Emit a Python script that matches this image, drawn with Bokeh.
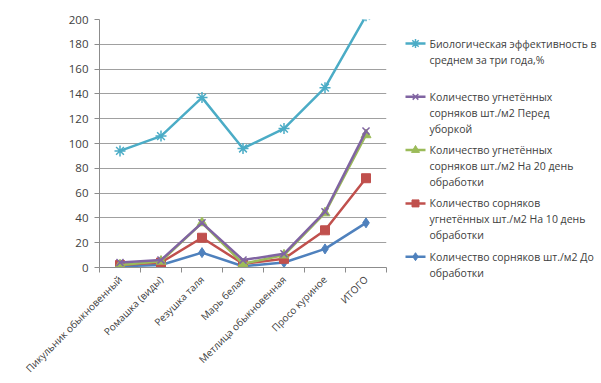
import math
from bokeh.plotting import figure
from bokeh.models import Range1d, LinearAxis, FixedTicker, Label
from bokeh.layouts import row, column
from bokeh.embed import file_html
from bokeh.resources import INLINE

# ---------------- data ----------------
categories = ["Пикульник обыкновенный", "Ромашка (виды)", "Резушка таля", "Марь белая",
              "Метлица обыкновенная", "Просо куриное", "ИТОГО"]
bio_eff = [94, 106, 137, 96, 112, 145, 203]
before_harvest = [4, 6, 36, 6, 11, 45, 110]
day20 = [2, 5, 36, 3, 10, 44, 107]
day10 = [2, 4, 24, 3, 7, 30, 72]
before_treat = [1, 2, 12, 1, 4, 15, 36]
y_ticks = [0, 20, 40, 60, 80, 100, 120, 140, 160, 180, 200]

legend_lines = [
    ["Биологическая эффективность в", "среднем за три года,%"],
    ["Количество угнетённых", "сорняков шт./м2 Перед", "уборкой"],
    ["Количество угнетённых", "сорняков шт./м2 На 20 день", "обработки"],
    ["Количество сорняков", "угнетённых шт./м2 На 10 день", "обработки"],
    ["Количество сорняков шт./м2 До", "обработки"],
]

# category positions on a numeric axis (centre of each slot) and slot boundaries
n = len(categories)
xc = [i + 0.5 for i in range(n)]
xb = list(range(n + 1))

# ---------------- style ----------------
FONT = "Open Sans"
TXT = "#404040"
GRID = "#a0a0a0"
AX = "#8c8c8c"
FRAME_TOP, FRAME_BOTTOM = 19, 267
series = [
    (before_treat, "#4F81BD", "diamond", 10, 1.0),
    (day10, "#C0504D", "square", 9, 1.0),
    (day20, "#9BBB59", "triangle", 10, 1.0),
    (before_harvest, "#8064A2", "x", 10, 1.5),
    (bio_eff, "#4BACC6", "asterisk", 11, 1.5),
]

p = figure(x_range=Range1d(0, n), y_range=Range1d(0, 200),
           width=400, height=383, output_backend="svg", toolbar_location=None,
           x_axis_location=None, min_border_left=99, min_border_right=14,
           min_border_top=FRAME_TOP, min_border_bottom=383 - FRAME_BOTTOM)
p.outline_line_color = None
p.xgrid.grid_line_color = None
p.ygrid.ticker = FixedTicker(ticks=y_ticks)
p.ygrid.grid_line_color = GRID
p.ygrid.grid_line_width = 1

yax = p.yaxis[0]
yax.ticker = FixedTicker(ticks=y_ticks)
yax.axis_line_color = AX
yax.major_tick_line_color = AX
yax.major_tick_in = 0
yax.major_tick_out = 5
yax.minor_tick_line_color = None
yax.major_label_standoff = 6
yax.major_label_text_font = FONT
yax.major_label_text_font_size = "11.5px"
yax.major_label_text_color = TXT

# one x axis: labels at slot centres (major), tick marks at slot boundaries (minor)
cax = LinearAxis(ticker=FixedTicker(ticks=xc, minor_ticks=xb),
                 major_label_overrides={x: c for x, c in zip(xc, categories)},
                 axis_line_color=AX, major_tick_line_color=None, major_tick_in=0, major_tick_out=0,
                 minor_tick_line_color=AX, minor_tick_in=0, minor_tick_out=5,
                 major_label_orientation=math.pi / 4, major_label_standoff=5,
                 major_label_text_font=FONT, major_label_text_font_size="10px",
                 major_label_text_color=TXT)
p.add_layout(cax, "below")

for vals, color, marker, size, lw in series:
    p.line(xc, vals, line_color=color, line_width=2.5)
    if marker in ("x", "asterisk"):
        p.scatter(xc, vals, marker=marker, size=size, line_color=color, line_width=lw)
    else:
        p.scatter(xc, vals, marker=marker, size=size, fill_color=color, line_color=color)

# ---------------- legend panel ----------------
lg = figure(width=201, height=383, x_range=Range1d(0, 201), y_range=Range1d(383, 0),
            output_backend="svg", toolbar_location=None, min_border=0,
            x_axis_location=None, y_axis_location=None)
lg.outline_line_color = None
lg.grid.grid_line_color = None

leg_series = list(reversed(series))
start_y = 43
step_y = 53.3
line_h = 16
for i, ((vals, color, marker, size, lw), lines) in enumerate(zip(leg_series, legend_lines)):
    y0 = start_y + i * step_y
    lg.line([5, 25], [y0, y0], line_color=color, line_width=2.5)
    if marker in ("x", "asterisk"):
        lg.scatter([15], [y0], marker=marker, size=size - 2, line_color=color, line_width=lw)
    else:
        lg.scatter([15], [y0], marker=marker, size=size - 2, fill_color=color, line_color=color)
    for k, t in enumerate(lines):
        lg.add_layout(Label(x=29, y=y0 + k * line_h, text=t, text_font=FONT,
                            text_font_size="10.5px", text_color=TXT,
                            text_baseline="middle", text_align="left"))

layout = row(p, column(lg))
open("out.html", "w").write(file_html(layout, INLINE))
